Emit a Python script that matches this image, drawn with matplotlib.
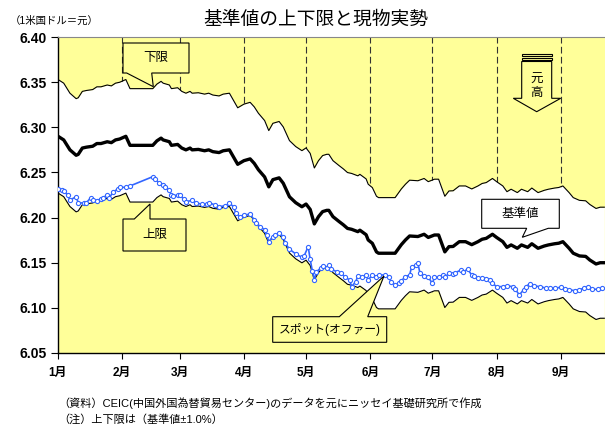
import numpy as np
import pandas as pd
import matplotlib
matplotlib.use('Agg')
import matplotlib.pyplot as plt
from matplotlib.patches import Polygon, Rectangle

plt.rcParams['font.family'] = ['Liberation Sans', 'Noto Sans CJK JP']

# 人民元の対ドル基準値 (2013年)
base_days = ['01-01', '01-04', '01-07', '01-10', '01-11', '01-13', '01-15', '01-18', '01-20', '01-22',
             '01-25', '01-27', '01-29', '01-31', '02-03', '02-05', '02-16', '02-18', '02-20', '02-21',
             '02-24', '02-25', '02-28', '03-02', '03-04', '03-06', '03-07', '03-10', '03-13', '03-15',
             '03-17', '03-20', '03-22', '03-25', '03-27', '03-29', '04-01', '04-04', '04-06', '04-08',
             '04-11', '04-13', '04-15', '04-18', '04-20', '04-23', '04-26', '04-29', '05-01', '05-03',
             '05-05', '05-07', '05-09', '05-11', '05-12', '05-14', '05-17', '05-19', '05-21', '05-23',
             '05-26', '05-27', '05-30', '05-31', '06-02', '06-04', '06-05', '06-13', '06-16', '06-18',
             '06-20', '06-24', '06-27', '06-29', '07-02', '07-04', '07-07', '07-09', '07-11', '07-14',
             '07-17', '07-20', '07-23', '07-25', '07-27', '07-30', '08-01', '08-04', '08-06', '08-08',
             '08-11', '08-13', '08-16', '08-18', '08-21', '08-24', '08-26', '08-29', '08-31', '09-02',
             '09-05', '09-07', '09-10', '09-13', '09-15', '09-18', '09-20', '09-22']
base_vals = [6.2904, 6.2860, 6.2750, 6.2690, 6.2700, 6.2770, 6.2780, 6.2790, 6.2820, 6.2820,
             6.2840, 6.2830, 6.2860, 6.2870, 6.2900, 6.2800, 6.2800, 6.2850, 6.2880, 6.2860,
             6.2840, 6.2800, 6.2810, 6.2770, 6.2750, 6.2770, 6.2750, 6.2755, 6.2740, 6.2750,
             6.2730, 6.2720, 6.2740, 6.2750, 6.2670, 6.2590, 6.2630, 6.2650, 6.2600, 6.2530,
             6.2450, 6.2340, 6.2420, 6.2440, 6.2380, 6.2230, 6.2165, 6.2120, 6.2150, 6.2090,
             6.1930, 6.2010, 6.2066, 6.2080, 6.2080, 6.2010, 6.1955, 6.1920, 6.1880, 6.1870,
             6.1844, 6.1860, 6.1810, 6.1752, 6.1715, 6.1620, 6.1605, 6.1605, 6.1700, 6.1752,
             6.1796, 6.1790, 6.1815, 6.1780, 6.1807, 6.1807, 6.1620, 6.1678, 6.1680, 6.1733,
             6.1733, 6.1700, 6.1733, 6.1760, 6.1770, 6.1815, 6.1780, 6.1733, 6.1670, 6.1697,
             6.1660, 6.1697, 6.1670, 6.1710, 6.1660, 6.1685, 6.1697, 6.1710, 6.1716, 6.1733,
             6.1660, 6.1605, 6.1575, 6.1570, 6.1530, 6.1486, 6.1500, 6.1500]

# 現物レート (オファー)
spot_days = ['01-01', '01-03', '01-04', '01-06', '01-07', '01-10', '01-11', '01-14', '01-15', '01-17',
             '01-18', '01-20', '01-22', '01-23', '01-25', '01-26', '01-28', '01-30', '01-31', '02-03',
             '02-05', '02-16', '02-17', '02-19', '02-21', '02-22', '02-24', '02-25', '02-26', '02-28',
             '03-01', '03-03', '03-04', '03-07', '03-09', '03-12', '03-14', '03-15', '03-18', '03-20',
             '03-23', '03-25', '03-27', '03-28', '03-30', '04-01', '04-04', '04-06', '04-07', '04-09',
             '04-11', '04-12', '04-13', '04-15', '04-16', '04-18', '04-20', '04-21', '04-23', '04-26',
             '04-29', '04-30', '05-02', '05-03', '05-04', '05-05', '05-06', '05-08', '05-09', '05-11',
             '05-12', '05-13', '05-16', '05-18', '05-20', '05-22', '05-23', '05-25', '05-26', '05-28',
             '05-30', '05-31', '06-02', '06-04', '06-05', '06-08', '06-10', '06-11', '06-13', '06-15',
             '06-16', '06-18', '06-20', '06-21', '06-23', '06-24', '06-25', '06-27', '06-29', '07-01',
             '07-02', '07-04', '07-06', '07-07', '07-09', '07-11', '07-12', '07-15', '07-16', '07-18',
             '07-20', '07-21', '07-23', '07-25', '07-27', '07-29', '07-30', '08-01', '08-04', '08-06',
             '08-09', '08-10', '08-12', '08-14', '08-15', '08-17', '08-19', '08-22', '08-25', '08-27',
             '08-29', '09-01', '09-03', '09-05', '09-08', '09-10', '09-12', '09-14', '09-16', '09-19',
             '09-21']
spot_vals = [6.2313, 6.2306, 6.2290, 6.2250, 6.2195, 6.2230, 6.2165, 6.2160, 6.2165, 6.2220,
             6.2200, 6.2185, 6.2210, 6.2220, 6.2250, 6.2220, 6.2287, 6.2313, 6.2335, 6.2335,
             6.2350, 6.2453, 6.2424, 6.2387, 6.2360, 6.2340, 6.2300, 6.2250, 6.2240, 6.2250,
             6.2250, 6.2203, 6.2176, 6.2190, 6.2158, 6.2150, 6.2150, 6.2165, 6.2140, 6.2121,
             6.2130, 6.2158, 6.2121, 6.2055, 6.2010, 6.2029, 6.2037, 6.1974, 6.1937, 6.1900,
             6.1863, 6.1807, 6.1733, 6.1788, 6.1805, 6.1833, 6.1788, 6.1716, 6.1650, 6.1597,
             6.1560, 6.1570, 6.1678, 6.1538, 6.1412, 6.1309, 6.1400, 6.1438, 6.1464, 6.1440,
             6.1475, 6.1428, 6.1400, 6.1383, 6.1339, 6.1309, 6.1235, 6.1290, 6.1353, 6.1340,
             6.1364, 6.1309, 6.1364, 6.1346, 6.1364, 6.1364, 6.1346, 6.1290, 6.1254, 6.1280,
             6.1300, 6.1346, 6.1364, 6.1456, 6.1475, 6.1494, 6.1383, 6.1353, 6.1339, 6.1272,
             6.1340, 6.1339, 6.1364, 6.1339, 6.1383, 6.1375, 6.1390, 6.1420, 6.1400, 6.1428,
             6.1364, 6.1353, 6.1328, 6.1328, 6.1320, 6.1310, 6.1272, 6.1235, 6.1235, 6.1243,
             6.1235, 6.1206, 6.1143, 6.1200, 6.1235, 6.1265, 6.1243, 6.1235, 6.1217, 6.1225,
             6.1217, 6.1228, 6.1206, 6.1200, 6.1190, 6.1200, 6.1217, 6.1235, 6.1206, 6.1206,
             6.1218]

band = 0.01  # 変動幅 ±1.0%
month_labels = ['1月', '2月', '3月', '4月', '5月', '6月', '7月', '8月', '9月']

YELLOW = '#FFFF99'
BLUE = '#3366FF'
W, H = 605, 428

base_dates = pd.to_datetime(['2013-' + d for d in base_days])
spot_dates = pd.to_datetime(['2013-' + d for d in spot_days])
base = np.array(base_vals)
upper = base * (1 + band)
lower = base * (1 - band)

fig = plt.figure(figsize=(W / 100, H / 100), dpi=100)
ax = fig.add_axes([57.5 / W, 1 - 353 / H, 1 - 57.5 / W, (353 - 37) / H])
ax.set_facecolor(YELLOW)

months = pd.date_range('2013-01-01', periods=9, freq='MS')
for m in months[1:]:
    ax.axvline(m, color='#333333', lw=0.8, dashes=(6, 3), zorder=1)

ax.fill_between(base_dates, lower, upper, color='white', lw=0, zorder=2)
ax.fill_between(base_dates, 6.05, lower, color=YELLOW, lw=0, zorder=2)
ax.plot(base_dates, upper, color='black', lw=0.8, zorder=3)
ax.plot(base_dates, lower, color='black', lw=0.8, zorder=3)
ax.plot(base_dates, base, color='black', lw=2.4, zorder=4)
ax.plot(spot_dates, spot_vals, color=BLUE, lw=1.2, marker='o', ms=3.0,
        mfc='white', mec=BLUE, mew=0.8, zorder=5)

ax.set_ylim(6.05, 6.40)
ax.set_yticks(np.arange(6.05, 6.401, 0.05))
ax.yaxis.set_major_formatter(plt.FormatStrFormatter('%.2f'))
ax.set_xlim(pd.Timestamp('2013-01-01'), pd.Timestamp('2013-09-22 08:00'))
ax.set_xticks(months)
ax.set_xticklabels(month_labels)
ax.tick_params(axis='y', direction='out', length=5, width=0.8, labelsize=10, pad=3)
ax.tick_params(axis='x', direction='out', length=4, width=0.8, labelsize=8.5, pad=6)
for lab in ax.get_yticklabels():
    lab.set_fontweight('bold')
for lab in ax.get_xticklabels():
    lab.set_fontweight('bold')
ax.spines['top'].set_color('#888888')
ax.spines['right'].set_visible(False)
ax.spines['left'].set_linewidth(1.0)
ax.spines['bottom'].set_linewidth(1.0)


def P(x, y):
    return (x / W, 1 - y / H)


def callout(pts, fc, text, tx, ty, size=9):
    fig.add_artist(Polygon([P(x, y) for x, y in pts], closed=True, transform=fig.transFigure,
                           fc=fc, ec='black', lw=0.8, zorder=6))
    fig.text(*P(tx, ty), text, ha='center', va='center', fontsize=size, zorder=7)


callout([(123, 43), (189, 43), (189, 73), (151.7, 73), (153.3, 86.7), (126.7, 73), (123, 73)],
        YELLOW, '下限', 156, 58)
callout([(123, 219), (134.3, 219), (150, 204), (150, 219), (186, 219), (186, 251), (123, 251)],
        YELLOW, '上限', 155, 235)
callout([(272.7, 316.7), (339.3, 316.7), (384, 276), (367.7, 316.7), (386.7, 316.7),
         (386.7, 342.3), (272.7, 342.3)], YELLOW, 'スポット(オファー)', 330, 330, size=8.5)
callout([(481.7, 199.3), (559.3, 199.3), (559.3, 228.3), (548.3, 228.3), (522.3, 237.3),
         (526.7, 228.3), (481.7, 228.3)], 'white', '基準値', 520.5, 214)

# 元高の矢印
for y0, y1 in [(54, 56.3), (57.5, 60.3)]:
    fig.add_artist(Rectangle(P(521.7, y1), 30 / W, (y1 - y0) / H, transform=fig.transFigure,
                             fc=YELLOW, ec='black', lw=0.8, zorder=6))
fig.add_artist(Polygon([P(x, y) for x, y in [(521.7, 61.5), (551.7, 61.5), (551.7, 98.3),
                                             (560.7, 98.3), (536.7, 111.7), (513.3, 98.3),
                                             (521.7, 98.3)]],
                       closed=True, transform=fig.transFigure, fc=YELLOW, ec='black', lw=0.8, zorder=6))
fig.text(*P(536.7, 80), '元', ha='center', va='center', fontsize=9, zorder=7)
fig.text(*P(536.7, 93), '高', ha='center', va='center', fontsize=9, zorder=7)

fig.text(*P(316, 20), '基準値の上下限と現物実勢', ha='center', va='center', fontsize=13.5)
fig.text(*P(10, 21), '（1米国ドル＝元）', ha='left', va='center', fontsize=7.5)
fig.text(*P(58, 403), '（資料）CEIC(中国外国為替貿易センター)のデータを元にニッセイ基礎研究所で作成',
         ha='left', va='center', fontsize=8)
fig.text(*P(58, 419), '（注）上下限は（基準値±1.0%）', ha='left', va='center', fontsize=8)

fig.savefig('out.png', dpi=100)
